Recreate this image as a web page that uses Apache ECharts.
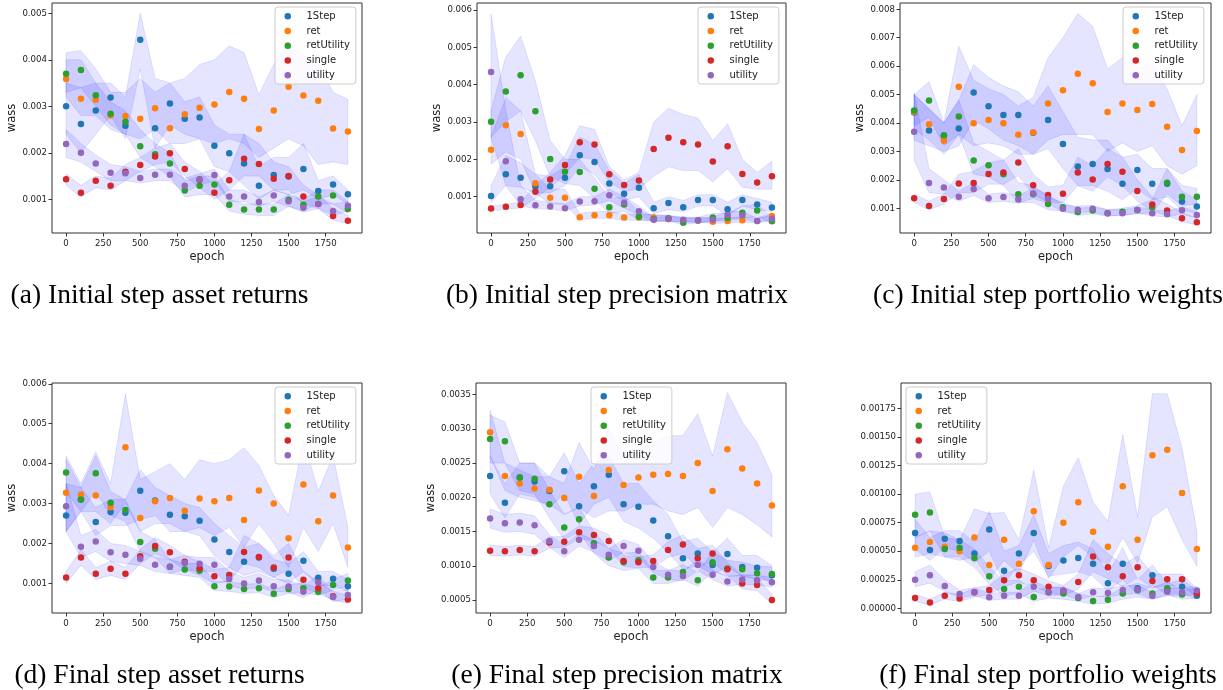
<!DOCTYPE html>
<html>
<head>
<meta charset="utf-8">
<script src="https://cdn.jsdelivr.net/npm/echarts@6/dist/echarts.min.js"></script>
<style>
html,body{margin:0;padding:0;background:#fff;}
#chart{width:1223px;height:690px;}
</style>
</head>
<body>
<div id="chart"></div>
<script>
// ---------- shared categories / ticks ----------
const EPOCHS = [0,100,200,300,400,500,600,700,800,900,1000,1100,1200,1300,1400,1500,1600,1700,1800,1900];
const METHODS = ['1Step','ret','retUtility','single','utility'];
const X_TICKS = [0,250,500,750,1000,1250,1500,1750];
const UNIT = 1e-3; // all series values below are given in units of 0.001 (wass)

const CAPTIONS = [
  '(a) Initial step asset returns',
  '(b) Initial step precision matrix',
  '(c) Initial step portfolio weights',
  '(d) Final step asset returns',
  '(e) Final step precision matrix',
  '(f) Final step portfolio weights'
];
const Y_TICKS_A = ['0.001','0.002','0.003','0.004','0.005'];
const Y_TICKS_B = ['0.001','0.002','0.003','0.004','0.005','0.006'];
const Y_TICKS_C = ['0.001','0.002','0.003','0.004','0.005','0.006','0.007','0.008'];
const Y_TICKS_D = ['0.001','0.002','0.003','0.004','0.005','0.006'];
const Y_TICKS_E = ['0.0005','0.0010','0.0015','0.0020','0.0025','0.0030','0.0035'];
const Y_TICKS_F = ['0.00000','0.00025','0.00050','0.00075','0.00100','0.00125','0.00150','0.00175'];

// ---------- (a) Initial step asset returns ----------
const a_1Step      = [3.00,2.62,2.91,3.19,2.58,4.43,2.53,3.06,2.73,2.76,2.15,1.99,1.77,1.29,1.52,1.49,1.65,1.18,1.32,1.11];
const a_1Step_lo   = [2.4,2.0,2.4,2.8,2.3,3.8,2.1,2.6,2.4,2.3,1.7,1.6,1.3,1.0,1.2,1.1,1.2,1.0,1.1,0.9];
const a_1Step_hi   = [3.5,3.4,3.5,3.5,3.2,5.0,3.6,3.5,3.1,3.2,2.6,2.4,2.4,1.7,1.9,1.9,2.2,1.4,1.5,1.2];
const a_ret        = [3.59,3.16,3.14,2.80,2.79,2.73,2.96,2.53,2.83,2.97,3.04,3.31,3.16,2.51,2.91,3.42,3.23,3.12,2.52,2.46];
const a_ret_lo     = [3.2,2.8,2.8,2.5,2.4,2.3,2.5,2.2,2.2,2.3,2.2,2.3,2.2,1.9,2.1,2.3,2.15,1.75,1.8,1.75];
const a_ret_hi     = [4.15,4.2,3.8,3.3,3.3,3.6,3.3,3.5,3.6,3.9,4.0,4.3,4.15,3.25,3.9,4.4,4.1,3.9,3.3,3.15];
const a_retUtility    = [3.70,3.78,3.24,2.84,2.67,2.14,1.97,1.77,1.19,1.29,1.32,0.88,0.78,0.78,0.78,0.99,0.88,1.06,1.08,0.79];
const a_retUtility_lo = [3.3,3.4,3.0,2.6,2.4,1.9,1.7,1.5,1.05,1.1,1.1,0.75,0.68,0.65,0.65,0.85,0.75,0.9,0.9,0.7];
const a_retUtility_hi = [4.0,4.0,3.5,3.1,2.9,2.5,2.2,2.0,1.4,1.5,1.5,1.0,0.9,0.9,0.9,1.1,1.0,1.2,1.2,0.95];
const a_single     = [1.43,1.14,1.40,1.29,1.59,1.74,1.92,1.99,1.65,1.42,1.14,1.41,1.87,1.76,1.44,1.50,1.06,0.90,0.64,0.54];
const a_single_lo  = [1.3,1.05,1.25,1.2,1.4,1.6,1.75,1.8,1.5,1.25,1.0,1.2,1.5,1.5,1.2,1.2,0.9,0.8,0.55,0.48];
const a_single_hi  = [1.55,1.3,1.5,1.45,1.75,1.9,2.1,2.2,1.8,1.6,1.3,1.6,2.4,2.2,1.8,1.7,1.3,1.1,0.8,0.65];
const a_utility    = [2.19,2.00,1.77,1.57,1.56,1.46,1.53,1.53,1.29,1.43,1.52,1.06,1.06,0.94,1.08,0.96,0.82,0.90,0.75,0.86];
const a_utility_lo = [1.9,1.8,1.6,1.4,1.4,1.35,1.4,1.4,1.15,1.3,1.4,0.95,0.95,0.85,0.95,0.85,0.72,0.8,0.65,0.75];
const a_utility_hi = [2.5,2.2,1.95,1.75,1.7,1.6,1.65,1.65,1.45,1.55,1.65,1.2,1.2,1.05,1.2,1.1,0.95,1.05,0.9,0.95];

// ---------- (b) Initial step precision matrix ----------
const b_1Step      = [1.02,1.60,1.51,1.28,1.28,1.51,2.11,1.93,1.35,1.08,1.24,0.69,0.83,0.72,0.91,0.91,0.66,0.91,0.79,0.71];
const b_1Step_lo   = [0.85,1.3,1.25,1.1,1.1,1.3,1.8,1.6,1.1,0.9,1.0,0.55,0.65,0.6,0.75,0.75,0.5,0.75,0.65,0.6];
const b_1Step_hi   = [1.3,2.1,1.9,1.6,1.55,1.8,2.6,2.4,1.7,1.35,1.6,0.85,1.0,0.9,1.05,1.05,0.85,1.05,0.95,0.85];
const b_ret        = [2.26,2.91,2.68,1.36,0.97,0.97,0.45,0.50,0.50,0.44,0.44,0.44,0.40,0.37,0.37,0.33,0.35,0.37,0.35,0.48];
const b_ret_lo     = [1.87,2.2,2.0,1.1,0.8,0.8,0.38,0.42,0.42,0.37,0.37,0.37,0.34,0.32,0.32,0.28,0.3,0.32,0.3,0.4];
const b_ret_hi     = [2.6,3.65,3.3,1.6,1.2,1.2,0.55,0.6,0.6,0.52,0.52,0.52,0.5,0.45,0.45,0.42,0.43,0.45,0.43,0.55];
const b_retUtility    = [3.01,3.82,4.25,3.29,2.01,1.67,1.66,1.21,0.72,0.79,0.46,0.40,0.42,0.30,0.36,0.44,0.43,0.57,0.63,0.34];
const b_retUtility_lo = [2.6,3.0,3.3,2.5,1.55,1.35,1.3,0.95,0.55,0.6,0.38,0.33,0.35,0.25,0.3,0.35,0.35,0.42,0.48,0.28];
const b_retUtility_hi = [3.3,4.75,5.3,4.1,2.5,2.0,2.0,1.5,0.95,1.0,0.6,0.5,0.5,0.4,0.45,0.55,0.55,0.75,0.8,0.45];
const b_single     = [0.68,0.73,0.78,1.13,1.46,1.85,2.46,2.40,1.60,1.31,1.43,2.28,2.58,2.46,2.40,1.94,2.35,1.61,1.38,1.55];
const b_single_lo  = [0.62,0.66,0.7,0.95,1.25,1.6,2.05,2.0,1.4,1.15,1.2,1.55,1.8,1.7,1.7,1.4,1.75,1.25,1.2,1.2];
const b_single_hi  = [0.75,0.8,0.85,1.3,1.65,2.1,2.9,2.8,1.8,1.45,1.65,3.0,3.37,3.2,3.1,2.5,2.95,2.0,1.65,1.95];
const b_utility    = [4.34,1.95,0.93,0.77,0.74,0.69,0.87,0.88,1.04,0.84,0.61,0.38,0.40,0.38,0.36,0.38,0.51,0.50,0.35,0.41];
const b_utility_lo = [2.6,1.3,0.75,0.68,0.66,0.62,0.75,0.78,0.9,0.7,0.5,0.33,0.35,0.33,0.31,0.33,0.42,0.42,0.3,0.35];
const b_utility_hi = [5.9,3.3,1.3,0.9,0.85,0.8,1.0,1.0,1.2,1.0,0.75,0.45,0.47,0.45,0.42,0.45,0.6,0.6,0.42,0.5];

// ---------- (c) Initial step portfolio weights ----------
const c_1Step      = [4.37,3.74,3.55,3.81,5.07,4.59,4.28,4.28,3.66,4.11,3.26,2.47,2.56,2.38,1.86,2.35,1.86,1.86,1.24,1.06];
const c_1Step_lo   = [3.4,3.2,3.0,3.2,4.1,3.8,3.4,3.2,2.9,3.1,2.4,1.8,1.8,1.6,1.3,1.7,1.3,1.4,0.95,0.8];
const c_1Step_hi   = [5.0,4.5,4.0,4.8,6.05,5.6,5.3,5.1,4.6,5.3,4.4,3.5,3.4,3.4,2.8,2.9,2.4,2.4,1.6,1.3];
const c_ret        = [4.40,3.96,3.38,5.28,3.99,4.11,3.99,3.59,3.67,4.69,5.15,5.73,5.40,4.39,4.69,4.46,4.67,3.87,3.05,3.72];
const c_ret_lo     = [3.8,3.4,2.9,3.6,3.2,3.3,3.2,2.9,2.9,3.4,3.6,3.6,3.6,3.0,3.3,3.0,3.2,2.5,2.2,2.5];
const c_ret_hi     = [5.0,4.5,4.0,6.7,5.5,5.2,5.0,4.6,4.9,6.3,7.0,7.85,7.4,5.9,6.3,6.0,6.1,5.2,3.9,5.0];
const c_retUtility    = [4.44,4.79,3.57,4.23,2.68,2.51,2.20,1.49,1.49,1.15,1.04,0.87,0.92,0.83,0.88,0.94,1.04,1.90,1.41,1.41];
const c_retUtility_lo = [3.9,4.2,3.2,3.6,2.2,2.1,1.8,1.2,1.2,0.95,0.9,0.75,0.8,0.72,0.76,0.8,0.85,1.5,1.1,1.15];
const c_retUtility_hi = [5.0,5.45,4.0,4.8,3.3,3.0,2.7,1.9,1.8,1.4,1.2,1.0,1.05,0.95,1.0,1.1,1.3,2.4,1.8,1.7];
const c_single     = [1.35,1.08,1.33,1.87,1.89,2.21,2.26,2.61,1.81,1.47,1.51,2.26,2.01,2.56,2.29,1.61,1.13,0.92,0.65,0.51];
const c_single_lo  = [1.2,0.95,1.15,1.55,1.55,1.85,1.85,2.15,1.5,1.2,1.2,1.8,1.6,2.1,1.8,1.25,0.9,0.75,0.52,0.42];
const c_single_hi  = [1.5,1.25,1.5,2.2,2.3,2.6,2.7,3.1,2.2,1.75,1.8,2.8,2.5,3.1,2.8,2.0,1.4,1.15,0.85,0.65];
const c_utility    = [3.69,1.89,1.73,1.41,1.68,1.35,1.40,1.31,1.52,1.33,0.98,0.95,0.98,0.83,0.83,0.94,0.83,0.79,0.93,0.76];
const c_utility_lo = [2.7,1.55,1.5,1.25,1.45,1.2,1.25,1.18,1.35,1.18,0.87,0.85,0.87,0.74,0.74,0.83,0.73,0.7,0.8,0.66];
const c_utility_hi = [5.05,2.4,2.0,1.6,1.9,1.5,1.55,1.45,1.7,1.5,1.1,1.08,1.1,0.95,0.95,1.05,0.95,0.9,1.05,0.88];

// ---------- (d) Final step asset returns ----------
const d_1Step      = [2.70,3.10,2.54,2.79,2.77,3.32,3.08,2.72,2.68,2.57,2.10,1.79,1.54,1.65,1.37,1.24,1.57,1.14,1.12,0.93];
const d_1Step_lo   = [2.3,2.8,2.2,2.45,2.45,2.6,2.7,2.3,2.3,2.2,1.7,1.4,1.2,1.3,1.15,1.0,1.3,0.95,0.95,0.8];
const d_1Step_hi   = [3.5,3.4,2.9,3.1,3.1,3.85,3.4,3.2,3.0,2.9,2.5,2.2,1.9,2.0,1.6,1.5,1.8,1.3,1.3,1.1];
const d_ret        = [3.27,3.23,3.20,2.91,4.41,2.64,3.06,3.14,2.82,3.13,3.06,3.14,2.59,3.33,3.00,2.13,3.48,2.56,3.20,1.90];
const d_ret_lo     = [2.3,2.8,2.8,2.5,3.0,2.3,2.5,2.5,2.3,2.4,2.2,2.4,1.9,2.5,2.0,1.4,2.4,1.8,2.5,1.4];
const d_ret_hi     = [4.2,3.5,4.3,3.5,5.75,3.6,3.8,4.0,3.6,4.1,4.0,4.1,4.4,3.95,3.2,2.7,4.6,3.3,4.2,2.4];
const d_retUtility    = [3.78,3.10,3.76,3.02,2.84,2.04,1.87,1.42,1.35,1.32,0.93,0.92,0.86,0.88,0.74,0.86,0.88,0.79,0.96,1.07];
const d_retUtility_lo = [3.3,2.8,3.3,2.7,2.55,1.8,1.65,1.25,1.2,1.15,0.82,0.8,0.75,0.77,0.65,0.75,0.77,0.7,0.83,0.92];
const d_retUtility_hi = [4.1,3.4,4.2,3.3,3.1,2.3,2.1,1.6,1.5,1.5,1.05,1.05,0.98,1.0,0.85,0.98,1.0,0.9,1.1,1.25];
const d_single     = [1.15,1.65,1.24,1.37,1.24,1.68,1.94,1.78,1.54,1.38,1.18,1.21,1.79,1.66,1.40,1.65,1.09,0.88,0.68,0.60];
const d_single_lo  = [1.0,1.45,1.1,1.2,1.1,1.5,1.75,1.6,1.35,1.2,1.0,1.05,1.5,1.4,1.15,1.35,0.9,0.75,0.58,0.5];
const d_single_hi  = [1.3,1.85,1.4,1.55,1.4,1.85,2.15,1.95,1.7,1.55,1.35,1.4,2.2,2.0,1.7,2.0,1.3,1.05,0.8,0.7];
const d_utility    = [2.93,1.92,2.05,1.78,1.72,1.62,1.47,1.42,1.51,1.49,1.47,1.11,1.00,1.07,0.93,0.92,0.79,1.02,0.66,0.71];
const d_utility_lo = [2.3,1.65,1.8,1.55,1.5,1.45,1.3,1.25,1.35,1.3,1.3,0.95,0.85,0.9,0.8,0.78,0.65,0.85,0.55,0.6];
const d_utility_hi = [3.5,2.2,2.35,2.0,1.95,1.8,1.65,1.6,1.7,1.65,1.65,1.3,1.15,1.25,1.1,1.08,0.95,1.2,0.8,0.85];

// ---------- (e) Final step precision matrix ----------
const e_1Step      = [2.31,1.92,2.29,2.23,2.09,2.38,1.87,2.16,2.33,1.90,1.86,1.66,1.43,1.11,1.18,1.01,1.17,0.98,0.97,0.86];
const e_1Step_lo   = [2.05,1.7,2.05,2.0,1.85,2.05,1.6,1.9,2.0,1.65,1.55,1.4,1.2,0.95,1.0,0.88,0.98,0.85,0.85,0.75];
const e_1Step_hi   = [2.6,2.2,2.5,2.5,2.3,2.65,2.2,2.5,2.6,2.2,2.2,1.95,1.75,1.35,1.4,1.2,1.4,1.15,1.15,1.0];
const e_ret        = [2.95,2.31,2.20,2.13,2.11,1.99,2.30,2.02,2.40,2.18,2.29,2.33,2.34,2.31,2.50,2.09,2.70,2.42,2.20,1.88];
const e_ret_lo     = [2.6,2.1,2.0,1.95,1.9,1.75,1.85,1.7,1.8,1.8,1.9,1.9,1.8,1.75,1.85,1.56,1.85,1.75,1.6,1.42];
const e_ret_hi     = [3.27,2.5,2.4,2.3,2.3,2.2,2.8,2.4,3.0,2.6,2.7,2.8,2.9,2.9,3.22,2.6,3.53,3.1,2.8,2.33];
const e_retUtility    = [2.85,2.82,2.29,2.27,1.90,1.56,1.68,1.33,1.12,1.05,1.08,0.83,0.83,0.91,0.79,1.05,0.96,0.95,0.89,0.88];
const e_retUtility_lo = [2.5,2.5,2.1,2.05,1.7,1.38,1.5,1.18,1.0,0.93,0.96,0.74,0.74,0.8,0.7,0.92,0.85,0.85,0.8,0.78];
const e_retUtility_hi = [3.2,3.1,2.5,2.5,2.1,1.75,1.85,1.5,1.25,1.18,1.2,0.93,0.93,1.02,0.9,1.2,1.08,1.05,1.0,0.98];
const e_single     = [1.22,1.21,1.23,1.21,1.34,1.35,1.49,1.45,1.36,1.07,1.05,1.07,1.23,1.31,1.11,1.18,0.95,0.74,0.72,0.50];
const e_single_lo  = [1.15,1.14,1.16,1.14,1.26,1.27,1.4,1.36,1.27,0.99,0.97,0.98,1.12,1.18,0.98,1.06,0.86,0.66,0.64,0.44];
const e_single_hi  = [1.3,1.28,1.3,1.28,1.42,1.43,1.58,1.55,1.45,1.15,1.13,1.16,1.35,1.45,1.25,1.3,1.05,0.85,0.82,0.58];
const e_utility    = [1.69,1.62,1.63,1.59,1.36,1.21,1.38,1.29,1.16,1.29,1.22,0.98,0.87,0.85,1.01,0.87,0.77,0.80,0.79,0.76];
const e_utility_lo = [1.55,1.49,1.5,1.46,1.27,1.12,1.29,1.2,1.07,1.2,1.13,0.9,0.8,0.78,0.93,0.8,0.7,0.73,0.72,0.69];
const e_utility_hi = [1.83,1.75,1.77,1.73,1.45,1.3,1.47,1.38,1.25,1.38,1.31,1.06,0.94,0.92,1.09,0.94,0.84,0.87,0.86,0.83];

// ---------- (f) Final step portfolio weights ----------
const f_1Step      = [0.66,0.51,0.61,0.59,0.48,0.69,0.33,0.48,0.66,0.37,0.42,0.44,0.39,0.22,0.39,0.175,0.29,0.16,0.19,0.11];
const f_1Step_lo   = [0.52,0.42,0.53,0.5,0.4,0.5,0.22,0.38,0.5,0.28,0.3,0.32,0.28,0.15,0.25,0.12,0.2,0.12,0.13,0.08];
const f_1Step_hi   = [0.78,0.62,0.68,0.68,0.58,0.85,0.5,0.55,0.82,0.48,0.55,0.58,0.52,0.3,0.53,0.25,0.38,0.22,0.25,0.16];
const f_ret        = [0.53,0.58,0.54,0.50,0.62,0.38,0.60,0.39,0.85,0.38,0.75,0.93,0.67,0.54,1.07,0.60,1.34,1.39,1.01,0.52];
const f_ret_lo     = [0.45,0.48,0.45,0.42,0.45,0.25,0.42,0.3,0.6,0.26,0.45,0.55,0.45,0.38,0.62,0.4,0.8,0.89,0.6,0.37];
const f_ret_hi     = [0.62,0.68,0.66,0.6,0.87,0.83,0.84,0.6,1.21,0.53,1.07,1.32,0.93,0.76,1.52,0.8,1.88,1.88,1.40,0.67];
const f_retUtility    = [0.82,0.84,0.52,0.53,0.44,0.28,0.17,0.19,0.10,0.14,0.13,0.09,0.064,0.076,0.13,0.16,0.13,0.175,0.12,0.13];
const f_retUtility_lo = [0.62,0.68,0.45,0.45,0.36,0.21,0.11,0.13,0.06,0.09,0.08,0.06,0.035,0.045,0.08,0.1,0.08,0.12,0.08,0.09];
const f_retUtility_hi = [1.0,1.02,0.62,0.6,0.52,0.36,0.24,0.25,0.15,0.19,0.18,0.13,0.1,0.11,0.18,0.22,0.18,0.23,0.16,0.17];
const f_single     = [0.09,0.052,0.11,0.085,0.14,0.16,0.245,0.29,0.245,0.19,0.155,0.23,0.455,0.36,0.28,0.36,0.24,0.255,0.255,0.13];
const f_single_lo  = [0.06,0.03,0.08,0.06,0.1,0.12,0.19,0.23,0.19,0.14,0.11,0.17,0.32,0.26,0.19,0.27,0.18,0.2,0.2,0.1];
const f_single_hi  = [0.12,0.08,0.14,0.12,0.18,0.2,0.3,0.35,0.3,0.24,0.2,0.3,0.6,0.48,0.38,0.46,0.3,0.3,0.3,0.17];
const f_utility    = [0.25,0.29,0.195,0.125,0.14,0.096,0.11,0.11,0.19,0.14,0.155,0.10,0.14,0.134,0.16,0.165,0.11,0.146,0.14,0.157];
const f_utility_lo = [0.19,0.22,0.15,0.095,0.11,0.07,0.08,0.08,0.15,0.11,0.12,0.075,0.11,0.1,0.12,0.13,0.08,0.11,0.11,0.12];
const f_utility_hi = [0.32,0.38,0.25,0.16,0.18,0.13,0.14,0.14,0.24,0.18,0.19,0.13,0.18,0.17,0.2,0.2,0.14,0.18,0.18,0.19];

// ---------- styling / layout (not data) ----------
const COLORS = ['#1f77b4','#ff7f0e','#2ca02c','#d62728','#9467bd'];
const BAND_FILL = 'rgba(0,0,255,0.1)';
const SANS = 'DejaVu Sans';
const TXT = '#222';

const PANELS = [
  {grid:{left:52, top:3,   width:310, height:230}, ymin:0.000275,  ymax:0.005222, yticks:Y_TICKS_A, yname:'wass', nameGap:31, legend:{left:275, top:7},
   mean:[a_1Step,a_ret,a_retUtility,a_single,a_utility], lo:[a_1Step_lo,a_ret_lo,a_retUtility_lo,a_single_lo,a_utility_lo], hi:[a_1Step_hi,a_ret_hi,a_retUtility_hi,a_single_hi,a_utility_hi]},
  {grid:{left:477, top:3,  width:309, height:230}, ymin:0.000027,  ymax:0.006188, yticks:Y_TICKS_B, yname:'wass', nameGap:32, legend:{left:698, top:7},
   mean:[b_1Step,b_ret,b_retUtility,b_single,b_utility], lo:[b_1Step_lo,b_ret_lo,b_retUtility_lo,b_single_lo,b_utility_lo], hi:[b_1Step_hi,b_ret_hi,b_retUtility_hi,b_single_hi,b_utility_hi]},
  {grid:{left:900, top:3,  width:311, height:230}, ymin:0.000131,  ymax:0.008222, yticks:Y_TICKS_C, yname:'wass', nameGap:31, legend:{left:1123, top:7},
   mean:[c_1Step,c_ret,c_retUtility,c_single,c_utility], lo:[c_1Step_lo,c_ret_lo,c_retUtility_lo,c_single_lo,c_utility_lo], hi:[c_1Step_hi,c_ret_hi,c_retUtility_hi,c_single_hi,c_utility_hi]},
  {grid:{left:52, top:383, width:310, height:230}, ymin:0.000259,  ymax:0.00602,  yticks:Y_TICKS_D, yname:'wass', nameGap:31, legend:{left:275, top:387},
   mean:[d_1Step,d_ret,d_retUtility,d_single,d_utility], lo:[d_1Step_lo,d_ret_lo,d_retUtility_lo,d_single_lo,d_utility_lo], hi:[d_1Step_hi,d_ret_hi,d_retUtility_hi,d_single_hi,d_utility_hi]},
  {grid:{left:476, top:383, width:310, height:230}, ymin:0.00031,  ymax:0.003669, yticks:Y_TICKS_E, yname:'wass', nameGap:35, legend:{left:591, top:387},
   mean:[e_1Step,e_ret,e_retUtility,e_single,e_utility], lo:[e_1Step_lo,e_ret_lo,e_retUtility_lo,e_single_lo,e_utility_lo], hi:[e_1Step_hi,e_ret_hi,e_retUtility_hi,e_single_hi,e_utility_hi]},
  {grid:{left:901, top:383, width:310, height:230}, ymin:-0.000041, ymax:0.001974, yticks:Y_TICKS_F, yname:'', nameGap:45, legend:{left:906, top:387},
   mean:[f_1Step,f_ret,f_retUtility,f_single,f_utility], lo:[f_1Step_lo,f_ret_lo,f_retUtility_lo,f_single_lo,f_utility_lo], hi:[f_1Step_hi,f_ret_hi,f_retUtility_hi,f_single_hi,f_utility_hi]}
];
const CAPTION_POS = [[159.5,296],[617,296],[1048,296],[159.5,676],[617,676],[1048,676]];

const real = arr => arr.map(v => v * UNIT);

const grids = [], xAxes = [], yAxes = [], legends = [], series = [];
PANELS.forEach((p, gi) => {
  grids.push(Object.assign({show:true, borderColor:'#333', borderWidth:1, backgroundColor:'transparent', containLabel:false}, p.grid));
  xAxes.push({
    type:'value', gridIndex:gi, min:-95, max:1995, position:'bottom',
    axisLine:{show:false, onZero:false}, splitLine:{show:false},
    axisTick:{show:true, inside:false, length:3.5, lineStyle:{color:'#333', width:1}, customValues:X_TICKS},
    axisLabel:{show:true, customValues:X_TICKS, fontFamily:SANS, fontSize:8.6, color:TXT, margin:6, formatter:v => String(v)},
    name:'epoch', nameLocation:'middle', nameGap:18,
    nameTextStyle:{fontFamily:SANS, fontSize:11.5, color:TXT}
  });
  const tickVals = p.yticks.map(s => parseFloat(s));
  const dec = p.yticks[0].split('.')[1].length;
  yAxes.push({
    type:'value', gridIndex:gi, min:p.ymin, max:p.ymax, position:'left',
    axisLine:{show:false, onZero:false}, splitLine:{show:false},
    axisTick:{show:true, inside:false, length:3.5, lineStyle:{color:'#333', width:1}, customValues:tickVals},
    axisLabel:{show:true, customValues:tickVals, fontFamily:SANS, fontSize:8.6, color:TXT, margin:5, formatter:v => v.toFixed(dec)},
    name:p.yname, nameLocation:'middle', nameGap:p.nameGap, nameRotate:90,
    nameTextStyle:{fontFamily:SANS, fontSize:11.5, color:TXT}
  });
  legends.push({
    show:true, orient:'vertical', left:p.legend.left, top:p.legend.top,
    data:METHODS.slice(), icon:'circle', itemWidth:6.5, itemHeight:6.5, itemGap:2,
    padding:[3,6,2.5,9.5], backgroundColor:'rgba(255,255,255,0.8)', borderColor:'#cccccc', borderWidth:1, borderRadius:3,
    selectedMode:false, z:10,
    textStyle:{fontFamily:SANS, fontSize:10, color:TXT, lineHeight:12.7, padding:[0,0,0,10.5]}
  });
  // shaded bands
  METHODS.forEach((m, si) => {
    const lo = real(p.lo[si]), hi = real(p.hi[si]);
    series.push({
      type:'custom', name:m + ' band', xAxisIndex:gi, yAxisIndex:gi, silent:true, z:1, clip:true,
      data:[[EPOCHS[0], lo[0]]], encode:{x:0, y:1},
      renderItem:(params, api) => {
        const pts = [];
        for (let i = 0; i < EPOCHS.length; i++) pts.push(api.coord([EPOCHS[i], hi[i]]));
        for (let i = EPOCHS.length - 1; i >= 0; i--) pts.push(api.coord([EPOCHS[i], lo[i]]));
        return {type:'polygon', shape:{points:pts}, style:{fill:BAND_FILL, stroke:BAND_FILL, lineWidth:1}};
      }
    });
  });
  // scatter points
  METHODS.forEach((m, si) => {
    const vals = real(p.mean[si]);
    series.push({
      type:'scatter', name:m, xAxisIndex:gi, yAxisIndex:gi, z:3 + si,
      symbol:'circle', symbolSize:6.5,
      itemStyle:{color:COLORS[si], opacity:1},
      data:EPOCHS.map((e, i) => [e, vals[i]])
    });
  });
});

const graphics = CAPTIONS.map((t, i) => ({
  type:'text', x:CAPTION_POS[i][0], y:CAPTION_POS[i][1], silent:true,
  style:{text:t, fontFamily:'Liberation Serif', fontSize:27.5, fill:'#000', align:'center', verticalAlign:'middle'}
}));

const chart = echarts.init(document.getElementById('chart'), null, {renderer:'canvas'});
chart.setOption({
  animation:false,
  backgroundColor:'#ffffff',
  color:COLORS,
  grid:grids, xAxis:xAxes, yAxis:yAxes, legend:legends, series:series,
  graphic:graphics
});
</script>
</body>
</html>
